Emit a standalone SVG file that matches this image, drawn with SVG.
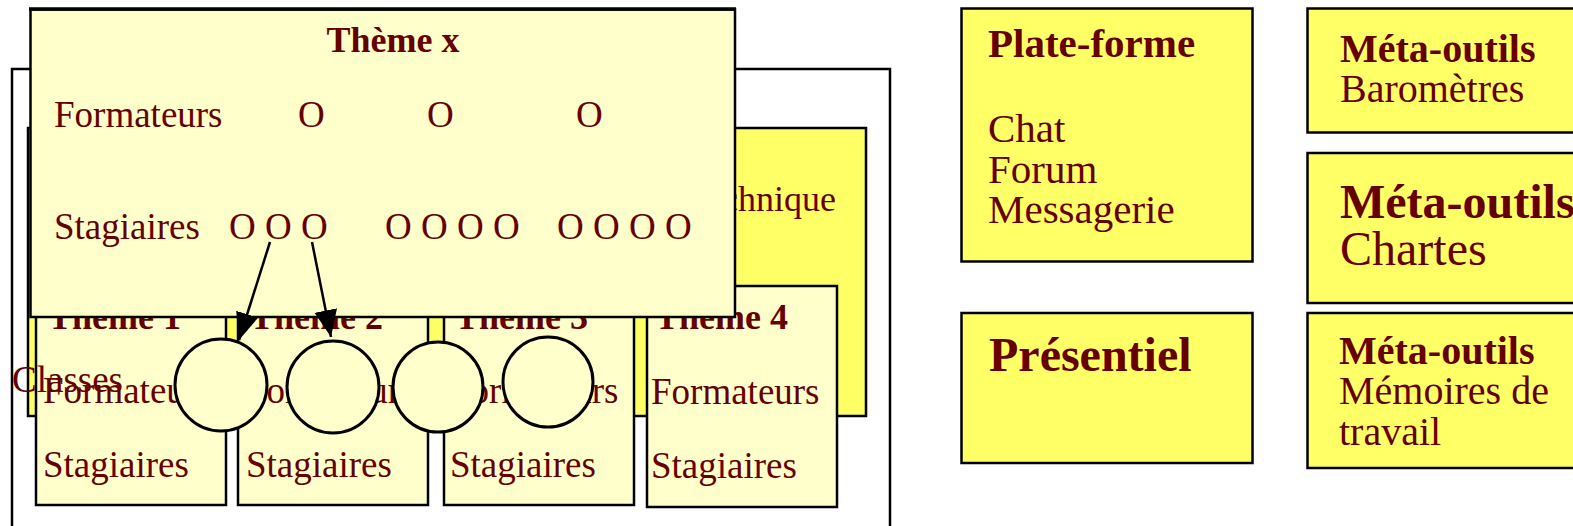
<svg xmlns="http://www.w3.org/2000/svg" width="1573" height="526" viewBox="0 0 1573 526">
<style>
.t{font-family:"Liberation Serif","Times New Roman",serif;fill:#660000;font-size:37px}
.b{font-family:"Liberation Serif","Times New Roman",serif;fill:#660000;font-weight:bold;font-size:36px}
.box{stroke:#000;stroke-width:2.5}
.lt{fill:#FFFFCC}
.yl{fill:#FFFF66}
.circ{fill:#FFFFCC;stroke:#000;stroke-width:3}
</style>
<defs>
<marker id="ah" markerUnits="userSpaceOnUse" markerWidth="27" markerHeight="23" viewBox="0 0 27 23" refX="27" refY="11.5" orient="auto">
<path d="M0,0 L27,11.5 L0,23 z" fill="#000"/>
</marker>
</defs>
<rect width="1573" height="526" fill="#fff"/>
<g id="classes-frame">
<rect x="12" y="69" width="878" height="480" fill="#fff" stroke="#000" stroke-width="2.5"/>
</g>
<g id="technique">
<rect class="box yl" x="28" y="128" width="838" height="288"/>
<text class="t" x="836" y="211" text-anchor="end" style="font-size:36px">Technique</text>
</g>
<g id="theme1">
<rect class="box lt" x="36" y="286" width="190" height="219"/>
<text class="b" x="48" y="329">Thème 1</text>
<text class="t" x="43" y="403">Formateurs</text>
<text class="t" x="43" y="477">Stagiaires</text>
</g>
<g id="theme2">
<rect class="box lt" x="238" y="286" width="190" height="219"/>
<text class="b" x="250" y="329">Thème 2</text>
<text class="t" x="246" y="403">Formateurs</text>
<text class="t" x="246" y="477">Stagiaires</text>
</g>
<g id="theme3">
<rect class="box lt" x="444" y="286" width="190" height="219"/>
<text class="b" x="455" y="329">Thème 3</text>
<text class="t" x="450" y="403">Formateurs</text>
<text class="t" x="450" y="477">Stagiaires</text>
</g>
<g id="theme4">
<rect class="box lt" x="647" y="286" width="190" height="221"/>
<text class="b" x="655" y="329">Thème 4</text>
<text class="t" x="651" y="404">Formateurs</text>
<text class="t" x="651" y="478">Stagiaires</text>
</g>
<g id="groups">
<circle class="circ" cx="221" cy="385" r="46"/>
<circle class="circ" cx="333" cy="387" r="46"/>
<circle class="circ" cx="438" cy="387" r="45"/>
<circle class="circ" cx="548" cy="382" r="45"/>
</g>
<g id="classes-label">
<text class="t" x="12" y="392">Classes</text>
</g>
<g id="themex">
<rect class="box lt" x="30.5" y="9.5" width="704.5" height="307.5"/>
<line x1="29" y1="9" x2="736" y2="9" stroke="#000" stroke-width="3.5"/>
<text class="b" x="393" y="52" text-anchor="middle">Thème x</text>
<text class="t" x="54" y="127">Formateurs</text>
<text class="t" x="298" y="127">O</text>
<text class="t" x="427" y="127">O</text>
<text class="t" x="576" y="127">O</text>
<text class="t" x="54" y="239">Stagiaires</text>
<text class="t" x="229" y="239">O O O</text>
<text class="t" x="385" y="239">O O O O</text>
<text class="t" x="557" y="239">O O O O</text>
</g>
<g id="connectors" stroke="#000" stroke-width="2.5" fill="none">
<line x1="270" y1="242" x2="239" y2="340" marker-end="url(#ah)"/>
<line x1="312" y1="242" x2="331" y2="337" marker-end="url(#ah)"/>
</g>
<g id="plateforme">
<rect class="box yl" x="961.5" y="8.5" width="291" height="253"/>
<text class="b" x="988" y="57" style="font-size:41px">Plate-forme</text>
<text class="t" x="988" y="142" style="font-size:41px">Chat</text>
<text class="t" x="988" y="183" style="font-size:41px">Forum</text>
<text class="t" x="988" y="223" style="font-size:41px">Messagerie</text>
</g>
<g id="presentiel">
<rect class="box yl" x="961.5" y="313" width="291" height="150"/>
<text class="b" x="989" y="371" style="font-size:48px">Présentiel</text>
</g>
<g id="meta-barometres">
<rect class="box yl" x="1307.5" y="8.5" width="300" height="124"/>
<text class="b" x="1340" y="62" style="font-size:40px">Méta-outils</text>
<text class="t" x="1340" y="102" style="font-size:40px">Baromètres</text>
</g>
<g id="meta-chartes">
<rect class="box yl" x="1307.5" y="153" width="300" height="150"/>
<text class="b" x="1340" y="218" style="font-size:48px">Méta-outils</text>
<text class="t" x="1340" y="265" style="font-size:48px">Chartes</text>
</g>
<g id="meta-memoires">
<rect class="box yl" x="1307.5" y="313" width="300" height="155"/>
<text class="b" x="1339" y="364" style="font-size:40px">Méta-outils</text>
<text class="t" x="1339" y="404" style="font-size:40px">Mémoires de</text>
<text class="t" x="1339" y="445" style="font-size:40px">travail</text>
</g>
</svg>
